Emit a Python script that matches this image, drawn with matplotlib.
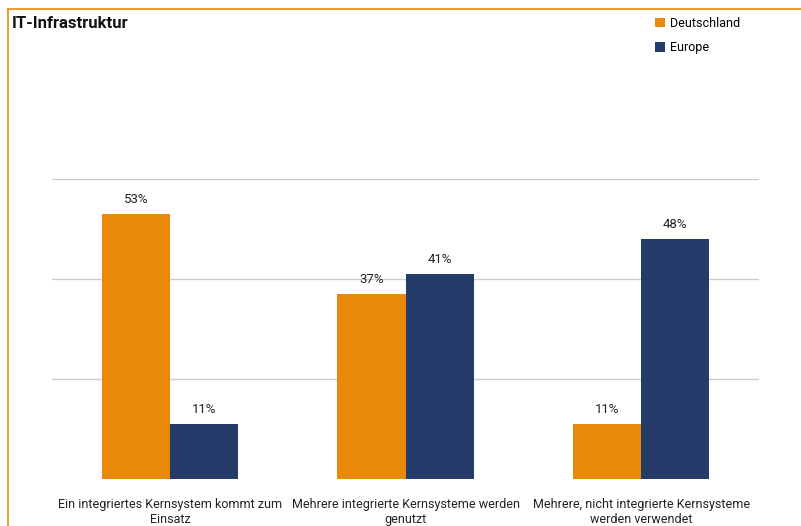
import matplotlib
matplotlib.use("Agg")
import matplotlib.pyplot as plt
import numpy as np
from matplotlib.lines import Line2D

plt.rcParams["font.family"] = ["Roboto", "DejaVu Sans"]

categories = ["Ein integriertes Kernsystem kommt zum\nEinsatz",
              "Mehrere integrierte Kernsysteme werden\ngenutzt",
              "Mehrere, nicht integrierte Kernsysteme\nwerden verwendet"]
deutschland = [53, 37, 11]
europe = [11, 41, 48]
series_names = ["Deutschland", "Europe"]
ORANGE = "#E8890C"
NAVY = "#253B6A"

fig = plt.figure(figsize=(8.01, 5.26), dpi=100)
ax = fig.add_axes([0.065, 0.0894, 0.8826, 0.5703])

x = np.arange(len(categories))
w = 0.289
b1 = ax.bar(x - w / 2, deutschland, w, color=ORANGE, label=series_names[0], zorder=2)
b2 = ax.bar(x + w / 2, europe, w, color=NAVY, label=series_names[1], zorder=2)
for bars, vals in [(b1, deutschland), (b2, europe)]:
    for r, v in zip(bars, vals):
        ax.annotate(f"{v}%", (r.get_x() + r.get_width() / 2, v), xytext=(0, 6),
                    textcoords="offset points", ha="center", va="bottom",
                    fontsize=9.5, color="#222222")

ax.set_xlim(-0.5, 2.5)
ax.set_ylim(0, 60)
ax.set_yticks([20, 40, 60])
ax.yaxis.grid(True, color="#cccccc", lw=1.0, zorder=0)
ax.tick_params(axis="y", left=False, labelleft=False)
ax.tick_params(axis="x", bottom=False, labelsize=9, pad=10, colors="#222222")
ax.set_xticks(x, categories)
for s in ax.spines.values():
    s.set_visible(False)

# orange frame lines (left and top)
fig.add_artist(Line2D([8 / 801, 8 / 801], [0, 1 - 9 / 526], color=ORANGE, lw=1.2))
fig.add_artist(Line2D([8 / 801, 1], [1 - 9 / 526, 1 - 9 / 526], color=ORANGE, lw=1.2))

fig.text(12 / 801, 1 - 24 / 526, "IT-Infrastruktur", fontsize=12, fontweight="bold",
         va="center", ha="left", color="#111111")

leg = fig.legend(handles=[b1, b2], labels=series_names, loc="upper left",
                 bbox_to_anchor=(650 / 801, 1 - 12 / 526), frameon=False,
                 fontsize=9, handlelength=0.8, handleheight=0.8, handletextpad=0.4,
                 labelspacing=0.9, borderaxespad=0)

fig.savefig("out.png", dpi=100)
